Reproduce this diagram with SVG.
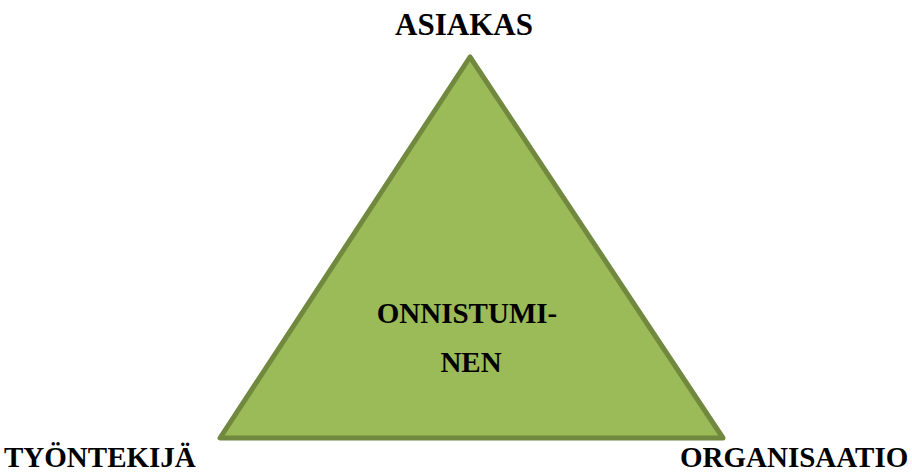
<svg xmlns="http://www.w3.org/2000/svg" width="912" height="473" viewBox="0 0 912 473">
<style>
.t{font-family:'Liberation Serif','Times New Roman',Times,serif;font-weight:700;font-size:29px;fill:#000}
.tri{fill:#9BBB59;stroke:#71893F;stroke-width:5;stroke-linejoin:round}
</style>
<rect width="912" height="473" fill="#fff"/>
<g id="triangle">
<polygon class="tri" points="470,57 220,438 723,438"/>
<text class="t" font-family="Liberation Serif, serif" x="467" y="323" text-anchor="middle">ONNISTUMI-</text>
<text class="t" font-family="Liberation Serif, serif" x="471" y="372" text-anchor="middle">NEN</text>
</g>
<g id="asiakas"><text class="t" font-family="Liberation Serif, serif" x="464" y="35" text-anchor="middle" style="font-size:31px">ASIAKAS</text></g>
<g id="tyontekija"><text class="t" font-family="Liberation Serif, serif" x="4" y="467">TYÖNTEKIJÄ</text></g>
<g id="organisaatio"><text class="t" font-family="Liberation Serif, serif" x="680" y="467">ORGANISAATIO</text></g>
<g id="connectors"/>
</svg>
